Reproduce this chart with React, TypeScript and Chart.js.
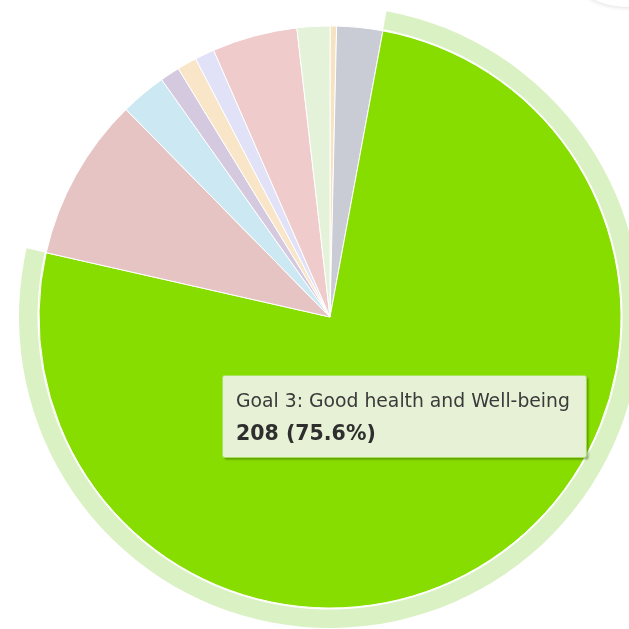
import React, { useEffect, useRef } from "react";
import { Chart, registerables } from "chart.js";

Chart.register(...registerables);

// ---- data ----
const goalLabels = [
  "Goal 1: No poverty",
  "Goal 2: Zero hunger",
  "Goal 3: Good health and Well-being",
  "Goal 4: Quality education",
  "Goal 5: Gender equality",
  "Goal 6: Clean water and sanitation",
  "Goal 7: Affordable and clean energy",
  "Goal 8: Decent work and economic growth",
  "Goal 9: Industry, innovation and infrastructure",
  "Goal 10: Reduced inequalities",
];
const goalCounts = [1, 7, 208, 25, 7, 3, 3, 3, 13, 5];
const sliceColors = [
  "#f6e3c1",
  "#c9cbd5",
  "#88dd00",
  "#e6c4c4",
  "#cce9f3",
  "#d5c9df",
  "#f9e6c8",
  "#e1e2f8",
  "#efcbcc",
  "#e3f2d8",
];
const highlightedIndex = 2;
const haloColor = "#daf1c4";
const tooltipBg = "#e6f1d5";

const haloPlugin = {
  id: "halo",
  beforeDatasetsDraw(chart: any) {
    const arc: any = chart.getDatasetMeta(0).data[highlightedIndex];
    if (!arc) return;
    const { x, y, startAngle, endAngle, outerRadius } = arc.getProps(
      ["x", "y", "startAngle", "endAngle", "outerRadius"],
      true
    );
    const ctx = chart.ctx;
    ctx.save();
    ctx.beginPath();
    ctx.arc(x, y, outerRadius + 20, startAngle, endAngle);
    ctx.arc(x, y, outerRadius + 1.5, endAngle, startAngle, true);
    ctx.closePath();
    ctx.fillStyle = haloColor;
    ctx.fill();
    ctx.restore();
  },
};

const tooltipPlugin = {
  id: "fixedTooltip",
  afterDraw(chart: any) {
    const arc: any = chart.getDatasetMeta(0).data[highlightedIndex];
    if (!arc) return;
    const { x, y } = arc.getProps(["x", "y"], true);
    const ctx = chart.ctx;
    const total = goalCounts.reduce((a, b) => a + b, 0);
    const value = goalCounts[highlightedIndex];
    const header = goalLabels[highlightedIndex];
    const body = `${value} (${((value / total) * 100).toFixed(1)}%)`;

    const headerFont = "18.8px 'DejaVu Sans', sans-serif";
    const bodyFont = "bold 20.5px 'DejaVu Sans', sans-serif";
    ctx.save();
    ctx.font = headerFont;
    const w1 = ctx.measureText(header).width;
    ctx.font = bodyFont;
    const w2 = ctx.measureText(body).width;
    const padL = 14;
    const padR = 16;
    const boxW = Math.max(w1, w2) + padL + padR;
    const boxH = 82;
    const left = x - 108;
    const top = y + 58;

    // shadow
    ctx.shadowColor = "rgba(40,70,0,0.45)";
    ctx.shadowBlur = 2;
    ctx.shadowOffsetX = 2;
    ctx.shadowOffsetY = 2;
    ctx.beginPath();
    ctx.roundRect(left + 0.5, top + 0.5, boxW, boxH, 2);
    ctx.fillStyle = tooltipBg;
    ctx.fill();
    ctx.shadowColor = "transparent";
    ctx.lineWidth = 1;
    ctx.strokeStyle = "#a8e060";
    ctx.stroke();

    ctx.fillStyle = "#3a3a3a";
    ctx.textBaseline = "alphabetic";
    ctx.textAlign = "left";
    ctx.font = headerFont;
    ctx.fillText(header, left + padL, top + 32);
    ctx.font = bodyFont;
    ctx.fillStyle = "#2e2e2e";
    ctx.fillText(body, left + padL, top + 65);
    ctx.restore();
  },
};

export default function App() {
  const canvasRef = useRef<HTMLCanvasElement | null>(null);

  useEffect(() => {
    if (!canvasRef.current) return;
    const chart = new Chart(canvasRef.current, {
      type: "pie",
      data: {
        labels: goalLabels,
        datasets: [
          {
            data: goalCounts,
            backgroundColor: sliceColors,
            borderColor: "#ffffff",
            borderWidth: 1,
            hoverBorderWidth: 1,
            hoverOffset: 0,
          },
        ],
      },
      options: {
        responsive: false,
        animation: false,
        events: [],
        layout: { padding: 28.5 },
        plugins: {
          legend: { display: false },
          tooltip: { enabled: false },
        },
      },
      plugins: [haloPlugin, tooltipPlugin],
    });
    return () => chart.destroy();
  }, []);

  return (
    <div
      style={{
        position: "fixed",
        left: 0,
        top: 0,
        width: 629,
        height: 629,
        overflow: "hidden",
        background: "#ffffff",
      }}
    >
      <div style={{ position: "absolute", left: 10, top: -3, width: 640, height: 640 }}>
        <canvas ref={canvasRef} width={640} height={640} style={{ display: "block" }} />
      </div>
      <div
        style={{
          position: "absolute",
          left: 550,
          top: -147,
          width: 154,
          height: 154,
          borderRadius: "50%",
          background: "#ffffff",
          boxShadow: "0 1px 4px rgba(0,0,0,0.12)",
        }}
      />
    </div>
  );
}
